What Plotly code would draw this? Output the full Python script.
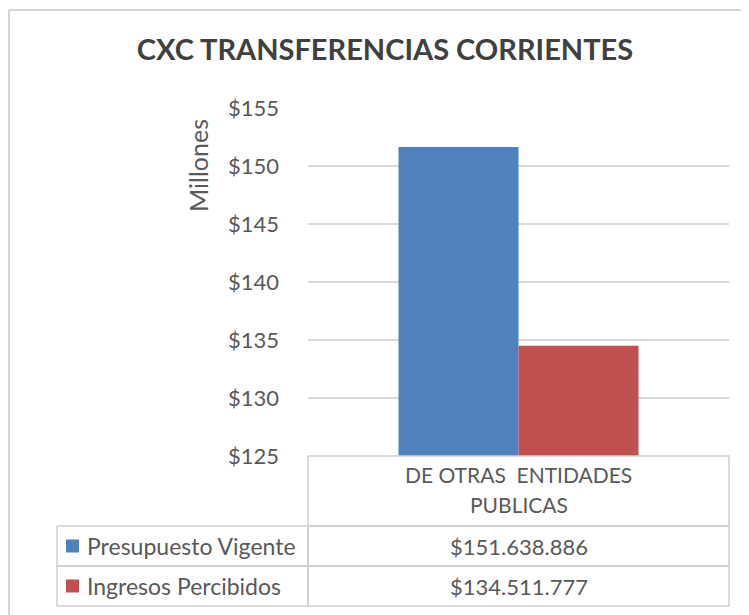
import plotly.graph_objects as go

categories = ["DE OTRAS ENTIDADES PUBLICAS"]
category_label = ["DE OTRAS  ENTIDADES", "PUBLICAS"]
series_names = ["Presupuesto Vigente", "Ingresos Percibidos"]
presupuesto_vigente = [151638886]
ingresos_percibidos = [134511777]
series_values = [presupuesto_vigente, ingresos_percibidos]
series_colors = ["#4F81BD", "#C0504D"]
y_ticks = [125, 130, 135, 140, 145, 150, 155]
y_tick_labels = ["$" + str(v) for v in y_ticks]

PAGE_W, PAGE_H = 749, 615
OFF = 8  # browser body margin
W, H = PAGE_W - OFF, PAGE_H - OFF
L, R, T, B = 308, 729, 108, 456  # plot area in page pixels
FONT = "Lato, 'Open Sans', sans-serif"
TXT = "#595959"
GRID = "#d9d9d9"


def px(x):
    return (x - L) / (R - L)


def py(y):
    return (B - y) / (B - T)


fig = go.Figure()
for name, vals, col in zip(series_names, series_values, series_colors):
    fig.add_trace(go.Bar(
        x=categories, y=[v / 1e6 for v in vals], name=name,
        marker=dict(color=col, line=dict(width=0)),
    ))

shapes = []
ann = []

# outer chart border
shapes.append(dict(type="line", xref="paper", yref="paper", x0=px(9), x1=px(760), y0=py(10), y1=py(10),
                   line=dict(color="#d4d4d4", width=2)))
shapes.append(dict(type="line", xref="paper", yref="paper", x0=px(9), x1=px(9), y0=py(10), y1=py(640),
                   line=dict(color="#d4d4d4", width=2)))

# data table
tb = dict(color="#cfcfcf", width=1.5)
row_tops = [456, 526, 566, 606]
shapes.append(dict(type="rect", xref="paper", yref="paper", x0=px(308), x1=px(729), y0=py(456), y1=py(526),
                   line=tb))
for i in range(2):
    shapes.append(dict(type="rect", xref="paper", yref="paper", x0=px(57), x1=px(308),
                       y0=py(row_tops[i + 1]), y1=py(row_tops[i + 2]), line=tb))
    shapes.append(dict(type="rect", xref="paper", yref="paper", x0=px(308), x1=px(729),
                       y0=py(row_tops[i + 1]), y1=py(row_tops[i + 2]), line=tb))
    yc = (row_tops[i + 1] + row_tops[i + 2]) / 2
    shapes.append(dict(type="rect", xref="paper", yref="paper", x0=px(66), x1=px(79),
                       y0=py(yc - 6.5), y1=py(yc + 6.5), fillcolor=series_colors[i], line=dict(width=0)))
    ann.append(dict(xref="paper", yref="paper", x=px(85), y=py(yc), text=series_names[i], showarrow=False,
                    xanchor="left", yanchor="middle", font=dict(family=FONT, size=23, color=TXT)))
    val = series_values[i][0]
    ann.append(dict(xref="paper", yref="paper", x=px(518.5), y=py(yc),
                    text="$" + f"{val:,}".replace(",", "."), showarrow=False,
                    xanchor="center", yanchor="middle", font=dict(family=FONT, size=22, color=TXT)))

ann.append(dict(xref="paper", yref="paper", x=px(518.5), y=py(475), text=category_label[0], showarrow=False,
                xanchor="center", yanchor="middle", font=dict(family=FONT, size=21, color=TXT)))
ann.append(dict(xref="paper", yref="paper", x=px(518.5), y=py(504), text=category_label[1], showarrow=False,
                xanchor="center", yanchor="middle", font=dict(family=FONT, size=21, color=TXT)))

ann.append(dict(xref="paper", yref="paper", x=px(198), y=py(166), text="Millones", showarrow=False,
                textangle=-90, xanchor="center", yanchor="middle", font=dict(family=FONT, size=25, color=TXT)))

fig.update_layout(
    width=W, height=H, autosize=False,
    margin=dict(l=L - OFF, r=PAGE_W - R, t=T - OFF, b=PAGE_H - B, pad=0),
    paper_bgcolor="white", plot_bgcolor="white",
    title=dict(text="<b>CXC TRANSFERENCIAS CORRIENTES</b>", x=(385 - OFF) / W, xanchor="center",
               y=1 - (50 - OFF) / H, yanchor="middle",
               font=dict(family=FONT, size=29, color="#404040")),
    showlegend=False,
    barmode="group", bargap=0.43, bargroupgap=0,
    shapes=shapes, annotations=ann,
    font=dict(family=FONT, color=TXT),
)
fig.update_xaxes(showticklabels=False, showgrid=False, zeroline=False, showline=False, ticks="")
fig.update_yaxes(range=[125, 155], tickvals=y_ticks, ticktext=y_tick_labels, showgrid=True, gridcolor=GRID,
                 gridwidth=1.5, zeroline=False, showline=False, ticks="",
                 ticklabelstandoff=28, tickfont=dict(family=FONT, size=22, color=TXT))

fig.write_html("out.html")
